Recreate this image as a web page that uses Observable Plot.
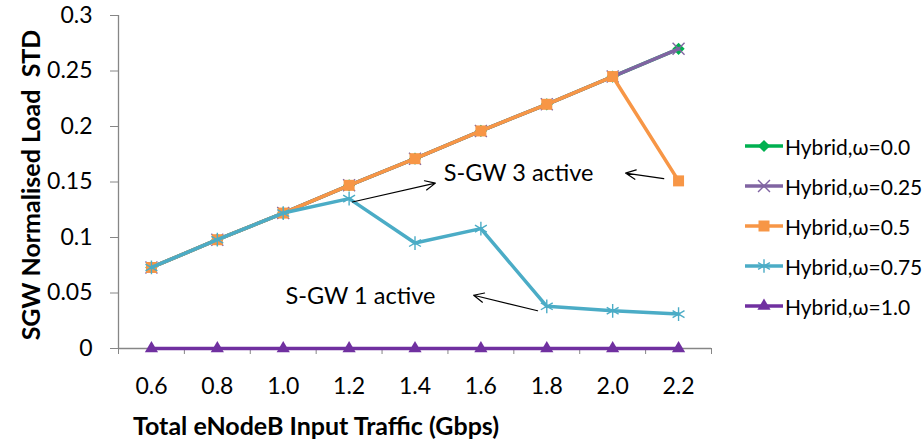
<!DOCTYPE html>
<html>
<head>
<meta charset="utf-8">
<script src="https://cdn.jsdelivr.net/npm/d3@7"></script>
<script src="https://cdn.jsdelivr.net/npm/@observablehq/plot@0.6"></script>
<style>
  html, body { margin: 0; padding: 0; background: #fff; }
  #wrap { position: relative; width: 923px; height: 446px; font-family: Lato, "Open Sans", sans-serif; }
  .title { position: absolute; font-weight: bold; font-size: 25px; line-height: 30px; color: #000; white-space: pre; }
  #ytitle { transform: translate(-50%, -50%) rotate(-90deg); }
  #legend { position: absolute; left: 745px; top: 126px; font-size: 21px; }
  .row { display: flex; align-items: center; height: 40px; white-space: nowrap; }
  .row span { margin-left: 2px; }
</style>
</head>
<body>
<div id="wrap">
  <div id="chart"></div>
  <div class="title" id="ytitle" style="left:30px; top:185px;">SGW Normalised Load  STD</div>
  <div class="title" id="xtitle" style="left:133px; top:410px;">Total eNodeB Input Traffic (Gbps)</div>
  <div id="legend"></div>
</div>
<script>
// Total eNodeB input traffic (Gbps)
const traffic = [0.6, 0.8, 1.0, 1.2, 1.4, 1.6, 1.8, 2.0, 2.2];

// SGW normalised load standard deviation per weighting ω
const hybrid00  = [0.073, 0.098, 0.122, 0.147, 0.171, 0.196, 0.220, 0.245, 0.270];
const hybrid025 = [0.073, 0.098, 0.122, 0.147, 0.171, 0.196, 0.220, 0.245, 0.270];
const hybrid05  = [0.073, 0.098, 0.122, 0.147, 0.171, 0.196, 0.220, 0.245, 0.151];
const hybrid075 = [0.073, 0.098, 0.122, 0.135, 0.095, 0.108, 0.038, 0.034, 0.031];
const hybrid10  = [0, 0, 0, 0, 0, 0, 0, 0, 0];

const seriesNames = ["Hybrid,ω=0.0", "Hybrid,ω=0.25", "Hybrid,ω=0.5", "Hybrid,ω=0.75", "Hybrid,ω=1.0"];
const seriesValues = [hybrid00, hybrid025, hybrid05, hybrid075, hybrid10];
const seriesColors = ["#00B050", "#8064A2", "#F79646", "#4BACC6", "#7030A0"];
const seriesSymbols = ["diamond2", "times", "square2", "asterisk", "triangle2"];
const symbolFilled = [true, false, true, false, true];
const symbolRadius = [5.5, 5.5, 7, 6.5, 6.3];

const yTicks = [0, 0.05, 0.1, 0.15, 0.2, 0.25, 0.3];

// Annotation labels and their arrows (data coordinates)
const noteText = ["S-GW 3 active", "S-GW 1 active"];
const noteX = [1.487, 1.007];
const noteY = [0.158, 0.047];
const arrowX1 = [1.21, 2.155, 1.772];
const arrowY1 = [0.132, 0.153, 0.034];
const arrowX2 = [1.462, 2.039, 1.578];
const arrowY2 = [0.149, 0.158, 0.048];

const rows = seriesNames.map((name, s) =>
  traffic.map((t, i) => ({series: name, x: t, y: seriesValues[s][i], s}))
);

// category boundaries carry the x-axis tick marks
const boundaries = d3.range(traffic.length + 1).map(i => +(0.5 + 0.2 * i).toFixed(1));
const axisGray = "#868686";

const marks = [
  Plot.ruleX([0.5], {y1: 0, y2: 0.3, stroke: axisGray, strokeWidth: 1.3}),
  Plot.ruleY([0], {x1: 0.5, x2: 2.3, stroke: axisGray, strokeWidth: 1.3}),
  Plot.axisY({ticks: yTicks, tickFormat: d => String(+d.toFixed(2)), tickSize: 8, tickPadding: 18,
              stroke: axisGray, fill: "#000", label: null}),
  Plot.axisX({ticks: boundaries, tickFormat: () => "", tickSize: 6, stroke: axisGray, label: null}),
  Plot.axisX({ticks: traffic, tickFormat: d => d.toFixed(1), tickSize: 0, tickPadding: 29, fill: "#000", label: null})
];

rows.forEach((data, s) => {
  marks.push(Plot.line(data, {x: "x", y: "y", stroke: seriesColors[s], strokeWidth: 3.5}));
  marks.push(Plot.dot(data, {
    x: "x", y: "y", symbol: () => seriesSymbols[s], r: symbolRadius[s],
    fill: symbolFilled[s] ? seriesColors[s] : "none",
    stroke: symbolFilled[s] ? "none" : seriesColors[s],
    strokeWidth: 1.4
  }));
});

marks.push(Plot.arrow(arrowX1.map((_, i) => i), {
  x1: i => arrowX1[i], y1: i => arrowY1[i], x2: i => arrowX2[i], y2: i => arrowY2[i],
  stroke: "#000", strokeWidth: 1.2, headLength: 14, headAngle: 50
}));
marks.push(Plot.text(noteText.map((_, i) => i), {
  x: i => noteX[i], y: i => noteY[i], text: i => noteText[i],
  textAnchor: "start", fontSize: 23.5, fill: "#000"
}));

const chart = Plot.plot({
  width: 923,
  height: 446,
  marginLeft: 118,
  marginRight: 212,
  marginTop: 15,
  marginBottom: 98,
  x: {type: "linear", domain: [0.5, 2.3]},
  y: {domain: [0, 0.3]},
  symbol: {type: "identity"},
  style: {fontFamily: "Lato, 'Open Sans', sans-serif", fontSize: "23px", background: "#fff", color: "#000"},
  marks
});
document.getElementById("chart").appendChild(chart);

// Legend: one swatch per series, line with its marker
const legend = d3.select("#legend");
seriesNames.forEach((name, s) => {
  const row = legend.append("div").attr("class", "row");
  const svg = row.append("svg").attr("width", 38).attr("height", 20);
  svg.append("line").attr("x1", 0).attr("x2", 38).attr("y1", 10).attr("y2", 10)
    .attr("stroke", seriesColors[s]).attr("stroke-width", 3.5);
  const sym = {diamond2: d3.symbolDiamond2, times: d3.symbolTimes, square2: d3.symbolSquare2,
               asterisk: d3.symbolAsterisk, triangle2: d3.symbolTriangle2}[seriesSymbols[s]];
  svg.append("path")
    .attr("transform", "translate(19,10)")
    .attr("d", d3.symbol(sym, Math.PI * symbolRadius[s] * symbolRadius[s])())
    .attr("fill", symbolFilled[s] ? seriesColors[s] : "none")
    .attr("stroke", symbolFilled[s] ? "none" : seriesColors[s])
    .attr("stroke-width", 1.4);
  row.append("span").text(name);
});
</script>
</body>
</html>
